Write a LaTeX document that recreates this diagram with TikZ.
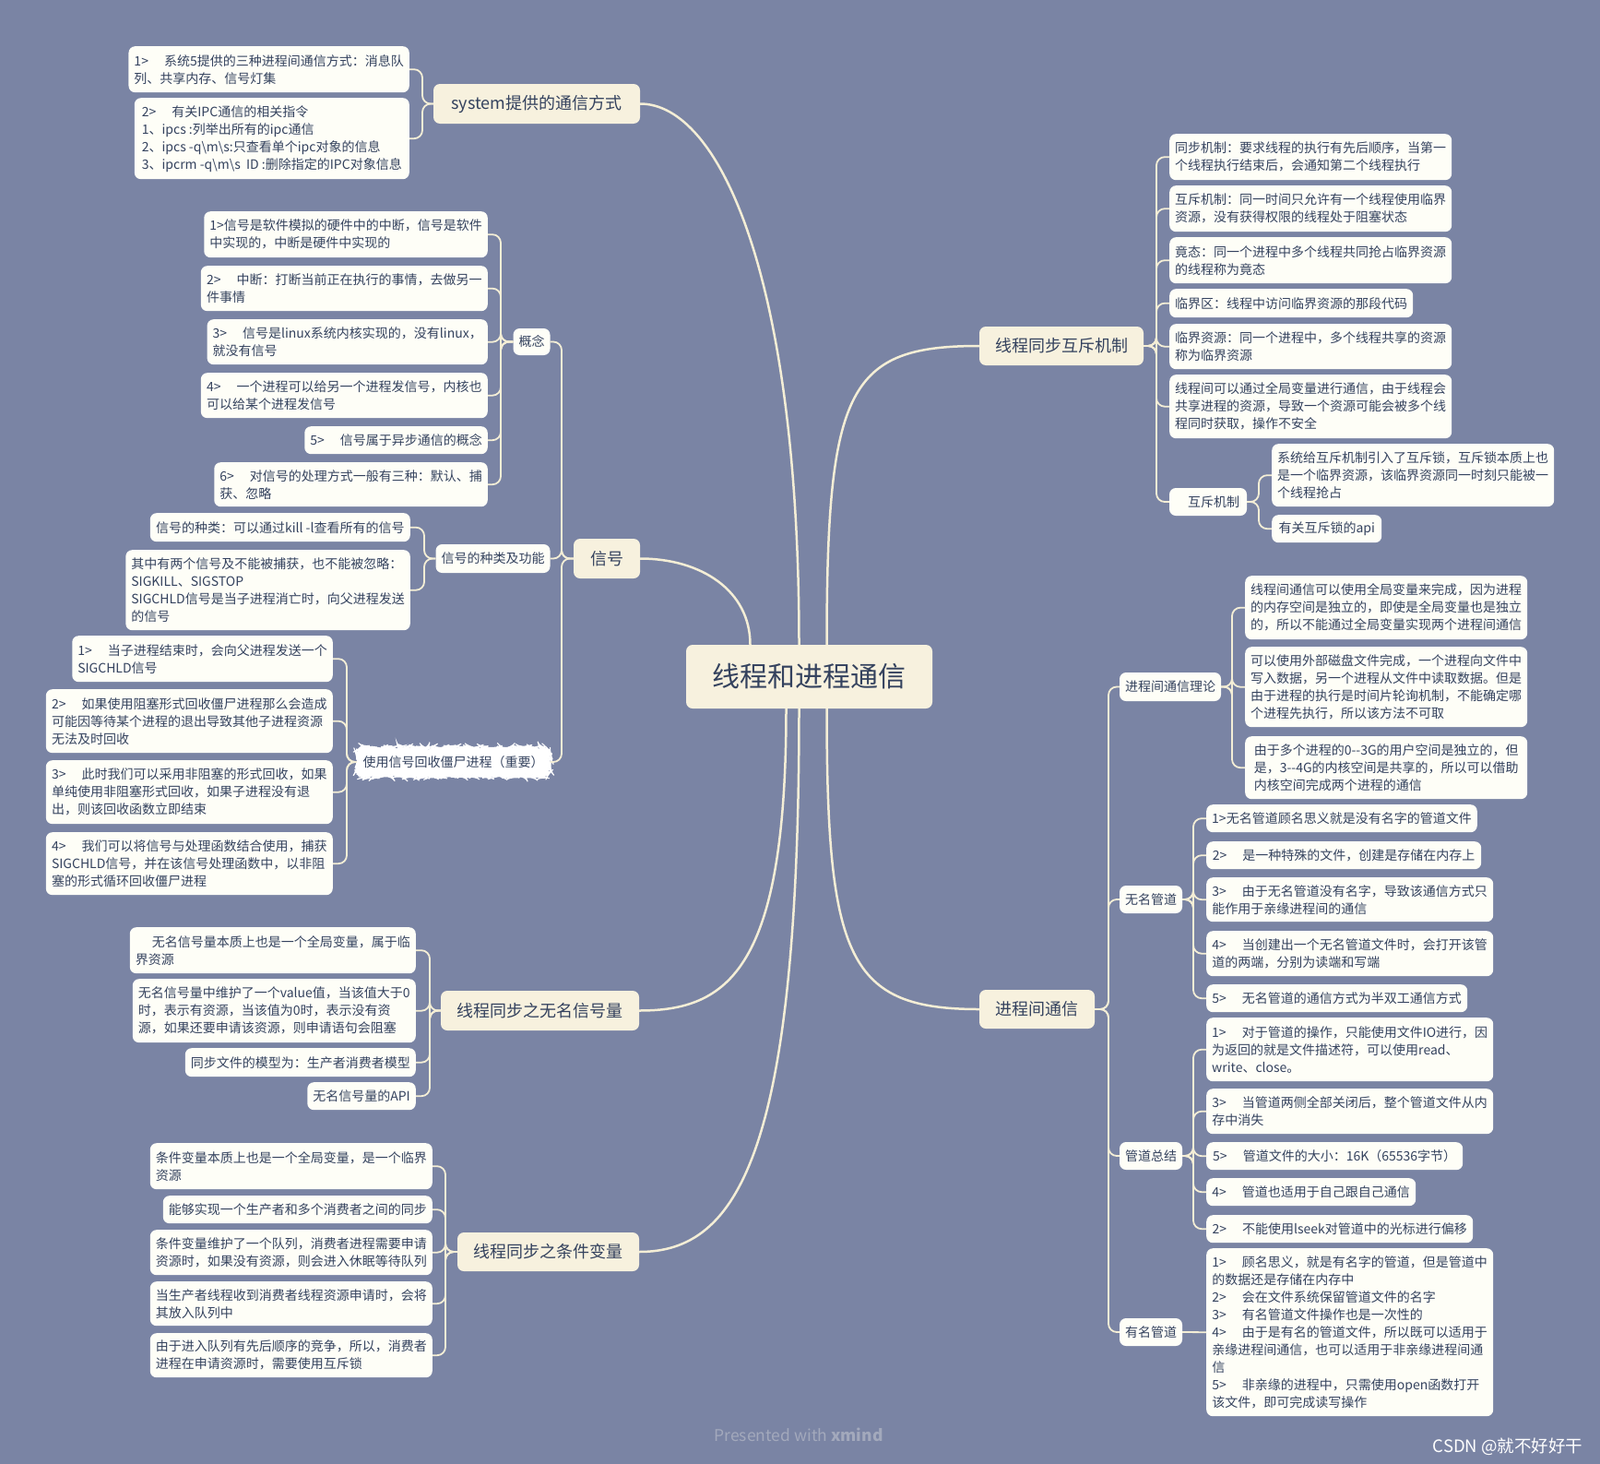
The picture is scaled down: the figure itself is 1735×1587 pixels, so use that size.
\documentclass[tikz,border=0pt]{standalone}
\usepackage{fontspec}
\setmainfont{Noto Sans CJK SC}
\usetikzlibrary{calc,decorations.pathmorphing}
\definecolor{bg}{HTML}{7A84A4}
\definecolor{mainfill}{HTML}{F7F1DE}
\definecolor{leaffill}{HTML}{FEFEF7}
\definecolor{linec}{HTML}{F4EED6}
\definecolor{txt}{HTML}{34425E}
\definecolor{wmc}{HTML}{A3A9BC}
\newcommand\gapx{\kern17pt\relax}
\begin{document}
\begin{tikzpicture}[x=1pt,y=-1pt,
  box/.style={rounded corners=7pt, text=txt, align=left, inner xsep=6pt, inner ysep=3pt},
  leaf/.style={box, fill=leaffill, font=\fontsize{14}{19}\selectfont},
  sub/.style={box, fill=leaffill, font=\fontsize{14}{19}\selectfont, align=center},
  main/.style={box, fill=mainfill, font=\fontsize{18}{22}\selectfont, align=center},
  sketch/.style={fill=white, draw=white, line width=1pt, decorate, decoration={random steps,segment length=3pt,amplitude=1.5pt}},
  brk/.style={draw=linec, line width=1.8pt, rounded corners=9pt},
  curv/.style={draw=linec, line width=2.5pt},
  L/.style={leaf, anchor=north east},
  R/.style={leaf, anchor=north west}]
\fill[bg] (0,0) rectangle (1735,1587);
\useasboundingbox (0,0) rectangle (1735,1587);

% ---------- centre ----------
\node[main, font=\fontsize{30}{36}\selectfont, minimum width=267pt, minimum height=69pt] (ctr) at (877.5,733.5) {线程和进程通信};

% ---------- main branches ----------
\node[main, minimum width=224pt, minimum height=43pt] (SN) at (582,112.5) {system提供的通信方式};
\node[main, minimum width=72pt, minimum height=43pt] (XH) at (658,605.5) {信号};
\node[main, minimum width=215pt, minimum height=43pt] (WM) at (585.5,1095.5) {线程同步之无名信号量};
\node[main, minimum width=197pt, minimum height=42pt] (TJ) at (594.5,1357) {线程同步之条件变量};
\node[main, minimum width=178pt, minimum height=42pt] (HC) at (1151,375) {线程同步互斥机制};
\node[main, minimum width=125pt, minimum height=42pt] (JC) at (1124.5,1094) {进程间通信};

% ---------- centre connectors ----------
\draw[curv] ($(ctr.north)+(-11,0)$) .. controls (866.5,300) and (780,112.5) .. (SN.east);
\draw[curv] ($(ctr.north)+(-64,0)$) .. controls (813.5,640) and (760,605.5) .. (XH.east);
\draw[curv] ($(ctr.south)+(-25,0)$) .. controls (852.5,1050) and (790,1095.5) .. (WM.east);
\draw[curv] ($(ctr.south)+(-11,0)$) .. controls (866.5,1250) and (800,1357) .. (TJ.east);
\draw[curv] ($(ctr.north)+(19,0)$) .. controls (896.5,420) and (920,375) .. (HC.west);
\draw[curv] ($(ctr.south)+(19,0)$) .. controls (896.5,1040) and (920,1094) .. (JC.west);

% ---------- system ----------
\node[L, minimum width=302pt, minimum height=50pt] (S1) at (444,50) {1>\gapx 系统5提供的三种进程间通信方式：消息队\\列、共享内存、信号灯集};
\node[L, minimum width=298pt, minimum height=88pt] (S2) at (444,106) {2>\gapx 有关IPC通信的相关指令\\1、ipcs :列举出所有的ipc通信\\2、ipcs -q\textbackslash m\textbackslash s:只查看单个ipc对象的信息\\3、ipcrm -q\textbackslash m\textbackslash s\ \ ID :删除指定的IPC对象信息};
\coordinate (bS) at (458,0);
\foreach \c in {S1,S2} \draw[brk] (SN.west) -- (SN.west -| bS) |- (\c.east);

% ---------- 信号 ----------
\node[sub, minimum width=39pt, minimum height=29pt] (GN) at (576.5,370.5) {概念};
\node[sub, minimum width=123pt, minimum height=31pt] (KN) at (534.5,605.5) {信号的种类及功能};
\node[sub, sketch, minimum width=209pt, minimum height=32pt] (RN) at (491.5,826) {使用信号回收僵尸进程（重要）};
\coordinate (bX) at (609,0);
\foreach \c in {GN,KN,RN} \draw[brk] (XH.west) -- (XH.west -| bX) |- (\c.east);

\node[L, minimum width=304pt, minimum height=50pt] (C1) at (529,229) {1>信号是软件模拟的硬件中的中断，信号是软件\\中实现的，中断是硬件中实现的};
\node[L, minimum width=311pt, minimum height=49pt] (C2) at (529,288) {2>\gapx 中断：打断当前正在执行的事情，去做另一\\件事情};
\node[L, minimum width=303pt, minimum height=49pt] (C3) at (529,346) {3>\gapx 信号是linux系统内核实现的，没有linux，\\就没有信号};
\node[L, minimum width=311pt, minimum height=49pt] (C4) at (529,404) {4>\gapx 一个进程可以给另一个进程发信号，内核也\\可以给某个进程发信号};
\node[L, minimum width=198pt, minimum height=30pt] (C5) at (529,462) {5>\gapx 信号属于异步通信的概念};
\node[L, minimum width=296pt, minimum height=48pt] (C6) at (529,501) {6>\gapx 对信号的处理方式一般有三种：默认、捕\\获、忽略};
\coordinate (bG) at (543,0);
\foreach \c in {C1,C2,C3,C4,C5,C6} \draw[brk] (GN.west) -- (GN.west -| bG) |- (\c.east);

\node[L, minimum width=282pt, minimum height=31pt] (K1) at (445,556) {信号的种类：可以通过kill -l查看所有的信号};
\node[L, minimum width=307pt, minimum height=87pt] (K2) at (445,596) {其中有两个信号及不能被捕获，也不能被忽略：\\SIGKILL、SIGSTOP\\SIGCHLD信号是当子进程消亡时，向父进程发送\\的信号};
\coordinate (bK) at (460,0);
\foreach \c in {K1,K2} \draw[brk] (KN.west) -- (KN.west -| bK) |- (\c.east);

\node[L, minimum width=279pt, minimum height=50pt] (R1) at (361,689) {1>\gapx 当子进程结束时，会向父进程发送一个\\SIGCHLD信号};
\node[L, minimum width=311pt, minimum height=69pt] (R2) at (361,747) {2>\gapx 如果使用阻塞形式回收僵尸进程那么会造成\\可能因等待某个进程的退出导致其他子进程资源\\无法及时回收};
\node[L, minimum width=311pt, minimum height=69pt] (R3) at (361,824) {3>\gapx 此时我们可以采用非阻塞的形式回收，如果\\单纯使用非阻塞形式回收，如果子进程没有退\\出，则该回收函数立即结束};
\node[L, minimum width=311pt, minimum height=68pt] (R4) at (361,902) {4>\gapx 我们可以将信号与处理函数结合使用，捕获\\SIGCHLD信号，并在该信号处理函数中，以非阻\\塞的形式循环回收僵尸进程};
\coordinate (bR) at (376,0);
\foreach \c in {R1,R2,R3,R4} \draw[brk] (RN.west) -- (RN.west -| bR) |- (\c.east);

% ---------- 无名信号量 ----------
\node[L, minimum width=307pt, minimum height=50pt] (W1) at (451,1005) {\hspace*{18pt}无名信号量本质上也是一个全局变量，属于临\\界资源};
\node[L, minimum width=307pt, minimum height=69pt] (W2) at (451,1061) {无名信号量中维护了一个value值，当该值大于0\\时，表示有资源，当该值为0时，表示没有资\\源，如果还要申请该资源，则申请语句会阻塞};
\node[L, minimum width=249pt, minimum height=31pt] (W3) at (451,1136) {同步文件的模型为：生产者消费者模型};
\node[L, minimum width=116pt, minimum height=30pt] (W4) at (451,1173) {无名信号量的API};
\coordinate (bW) at (466,0);
\foreach \c in {W1,W2,W3,W4} \draw[brk] (WM.west) -- (WM.west -| bW) |- (\c.east);

% ---------- 条件变量 ----------
\node[L, minimum width=305pt, minimum height=50pt] (T1) at (469,1239) {条件变量本质上也是一个全局变量，是一个临界\\资源};
\node[L, minimum width=291pt, minimum height=30pt] (T2) at (469,1296) {能够实现一个生产者和多个消费者之间的同步};
\node[L, minimum width=305pt, minimum height=49pt] (T3) at (469,1333) {条件变量维护了一个队列，消费者进程需要申请\\资源时，如果没有资源，则会进入休眠等待队列};
\node[L, minimum width=305pt, minimum height=48pt] (T4) at (469,1389) {当生产者线程收到消费者线程资源申请时，会将\\其放入队列中};
\node[L, minimum width=305pt, minimum height=48pt] (T5) at (469,1445) {由于进入队列有先后顺序的竞争，所以，消费者\\进程在申请资源时，需要使用互斥锁};
\coordinate (bT) at (483,0);
\foreach \c in {T1,T2,T3,T4,T5} \draw[brk] (TJ.west) -- (TJ.west -| bT) |- (\c.east);

% ---------- 线程同步互斥机制 ----------
\node[R, minimum width=305pt, minimum height=50pt] (M1) at (1268,145) {同步机制：要求线程的执行有先后顺序，当第一\\个线程执行结束后，会通知第二个线程执行};
\node[R, minimum width=305pt, minimum height=50pt] (M2) at (1268,201) {互斥机制：同一时间只允许有一个线程使用临界\\资源，没有获得权限的线程处于阻塞状态};
\node[R, minimum width=305pt, minimum height=50pt] (M3) at (1268,257) {竟态：同一个进程中多个线程共同抢占临界资源\\的线程称为竟态};
\node[R, minimum width=264pt, minimum height=31pt] (M4) at (1268,313) {临界区：线程中访问临界资源的那段代码};
\node[R, minimum width=305pt, minimum height=49pt] (M5) at (1268,351) {临界资源：同一个进程中，多个线程共享的资源\\称为临界资源};
\node[R, minimum width=305pt, minimum height=69pt] (M6) at (1268,406) {线程间可以通过全局变量进行通信，由于线程会\\共享进程的资源，导致一个资源可能会被多个线\\程同时获取，操作不安全};
\node[sub, minimum width=84pt, minimum height=30pt] (HN) at (1310,544) {\hspace*{12pt}互斥机制};
\coordinate (bH) at (1254,0);
\foreach \c in {M1,M2,M3,M4,M5,M6,HN} \draw[brk] (HC.east) -- (HC.east -| bH) |- (\c.west);

\node[R, minimum width=305pt, minimum height=68pt] (H1) at (1379,481) {系统给互斥机制引入了互斥锁，互斥锁本质上也\\是一个临界资源，该临界资源同一时刻只能被一\\个线程抢占};
\node[R, minimum width=119pt, minimum height=30pt] (H2) at (1379,558) {有关互斥锁的api};
\coordinate (bHH) at (1365,0);
\foreach \c in {H1,H2} \draw[brk] (HN.east) -- (HN.east -| bHH) |- (\c.west);

% ---------- 进程间通信 ----------
\node[sub, minimum width=110pt, minimum height=31pt] (PL) at (1269,744.5) {进程间通信理论};
\node[sub, minimum width=68pt, minimum height=30pt] (NG) at (1248,975) {无名管道};
\node[sub, minimum width=68pt, minimum height=30pt] (GJ) at (1248,1253) {管道总结};
\node[sub, minimum width=68pt, minimum height=30pt] (YG) at (1248,1444) {有名管道};
\coordinate (bJ) at (1202,0);
\foreach \c in {PL,NG,GJ,YG} \draw[brk] (JC.east) -- (JC.east -| bJ) |- (\c.west);

\node[R, minimum width=306pt, minimum height=69pt] (P1) at (1350,624) {线程间通信可以使用全局变量来完成，因为进程\\的内存空间是独立的，即使是全局变量也是独立\\的，所以不能通过全局变量实现两个进程间通信};
\node[R, minimum width=306pt, minimum height=87pt] (P2) at (1350,701) {可以使用外部磁盘文件完成，一个进程向文件中\\写入数据，另一个进程从文件中读取数据。但是\\由于进程的执行是时间片轮询机制，不能确定哪\\个进程先执行，所以该方法不可取};
\node[R, minimum width=306pt, minimum height=68pt] (P3) at (1350,798) {由于多个进程的0-{}-3G的用户空间是独立的，但\\是，3-{}-4G的内核空间是共享的，所以可以借助\\内核空间完成两个进程的通信};
\coordinate (bP) at (1336,0);
\foreach \c in {P1,P2,P3} \draw[brk] (PL.east) -- (PL.east -| bP) |- (\c.west);

\node[R, minimum width=290pt, minimum height=30pt] (N1) at (1308,872) {1>无名管道顾名思义就是没有名字的管道文件};
\node[R, minimum width=298pt, minimum height=30pt] (N2) at (1308,912) {2>\gapx 是一种特殊的文件，创建是存储在内存上};
\node[R, minimum width=311pt, minimum height=48pt] (N3) at (1308,951) {3>\gapx 由于无名管道没有名字，导致该通信方式只\\能作用于亲缘进程间的通信};
\node[R, minimum width=311pt, minimum height=49pt] (N4) at (1308,1009) {4>\gapx 当创建出一个无名管道文件时，会打开该管\\道的两端，分别为读端和写端};
\node[R, minimum width=283pt, minimum height=30pt] (N5) at (1308,1067) {5>\gapx 无名管道的通信方式为半双工通信方式};
\coordinate (bN) at (1294,0);
\foreach \c in {N1,N2,N3,N4,N5} \draw[brk] (NG.east) -- (NG.east -| bN) |- (\c.west);

\node[R, minimum width=308pt, minimum height=69pt] (G1) at (1308,1103) {1>\gapx 对于管道的操作，只能使用文件IO进行，因\\为返回的就是文件描述符，可以使用read、\\write、close。};
\node[R, minimum width=311pt, minimum height=49pt] (G2) at (1308,1180) {3>\gapx 当管道两侧全部关闭后，整个管道文件从内\\存中消失};
\node[R, minimum width=278pt, minimum height=30pt] (G3) at (1308,1238) {5>\gapx 管道文件的大小：16K（65536字节）};
\node[R, minimum width=227pt, minimum height=30pt] (G4) at (1308,1277) {4>\gapx 管道也适用于自己跟自己通信};
\node[R, minimum width=289pt, minimum height=30pt] (G5) at (1308,1317) {2>\gapx 不能使用lseek对管道中的光标进行偏移};
\foreach \c in {G1,G2,G3,G4,G5} \draw[brk] (GJ.east) -- (GJ.east -| bN) |- (\c.west);

\node[R, minimum width=311pt, minimum height=182pt] (Y1) at (1308,1353) {1>\gapx 顾名思义，就是有名字的管道，但是管道中\\的数据还是存储在内存中\\2>\gapx 会在文件系统保留管道文件的名字\\3>\gapx 有名管道文件操作也是一次性的\\4>\gapx 由于是有名的管道文件，所以既可以适用于\\亲缘进程间通信，也可以适用于非亲缘进程间通\\信\\5>\gapx 非亲缘的进程中，只需使用open函数打开\\该文件，即可完成读写操作};
\draw[brk] (YG.east) -- (Y1.west);

% ---------- watermarks ----------
\node[text=wmc, font=\fontsize{17.5}{20}\selectfont] (wm1) at (866,1555) {Presented with \textbf{xmind}};
\node[text=white, font=\fontsize{18.5}{22}\selectfont, anchor=east] (wm2) at (1720,1568) {CSDN @就不好好干};
\end{tikzpicture}
\end{document}
